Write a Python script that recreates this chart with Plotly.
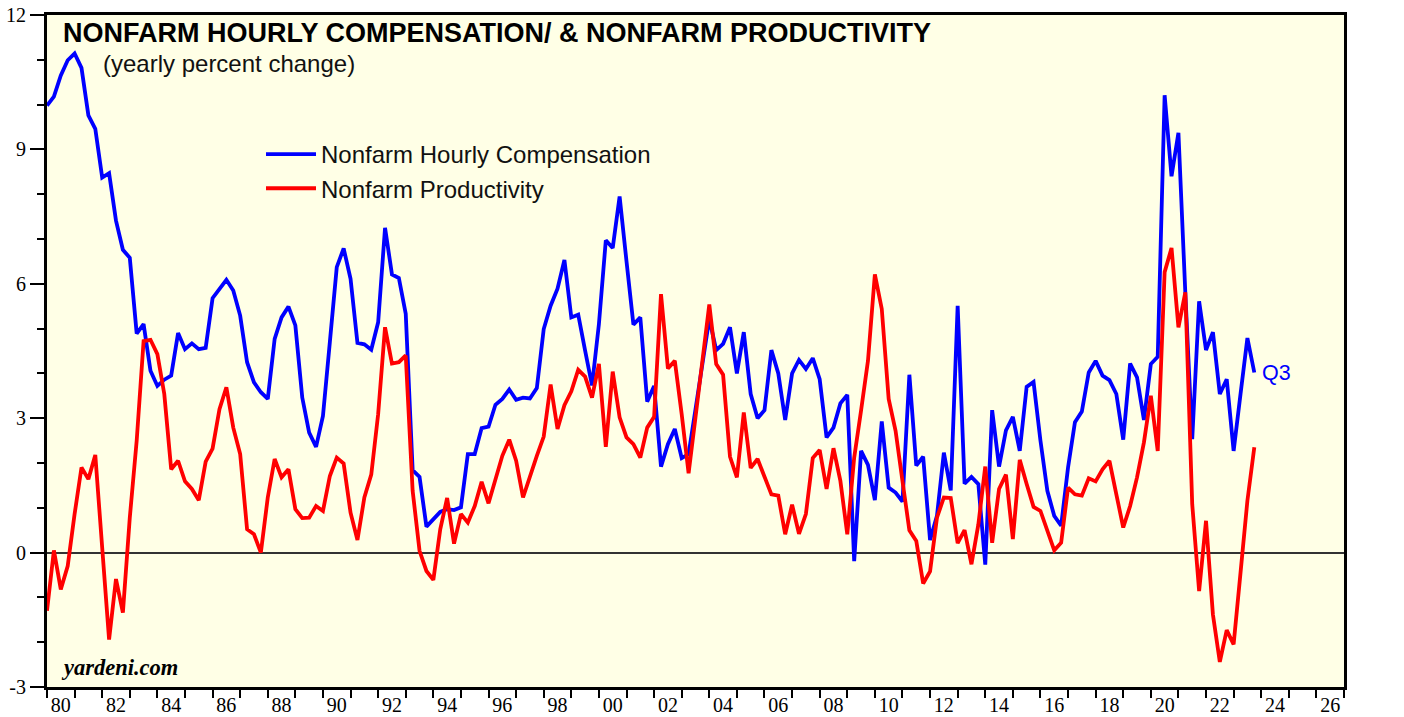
import plotly.graph_objects as go

# Quarterly observations, 1979Q4 .. 2023Q3 (plotted at quarter end)
start_year = 1980.0
compensation = [
    9.98, 10.18, 10.65, 10.99, 11.14, 10.82, 9.76, 9.46, 8.37, 8.47,
    7.41, 6.76, 6.58, 4.89, 5.10, 4.06, 3.72, 3.86, 3.95, 4.90,
    4.54, 4.67, 4.54, 4.57, 5.68, 5.89, 6.09, 5.85, 5.29, 4.25,
    3.80, 3.58, 3.43, 4.77, 5.25, 5.49, 5.07, 3.46, 2.68, 2.36,
    3.05, 4.70, 6.37, 6.79, 6.11, 4.68, 4.65, 4.53, 5.14, 7.25,
    6.21, 6.13, 5.33, 1.84, 1.69, 0.58, 0.75, 0.91, 0.97, 0.95,
    1.01, 2.20, 2.20, 2.78, 2.81, 3.30, 3.43, 3.64, 3.41, 3.46,
    3.44, 3.67, 4.99, 5.51, 5.89, 6.53, 5.25, 5.31, 4.51, 3.73,
    5.10, 6.97, 6.80, 7.95, 6.50, 5.09, 5.25, 3.37, 3.72, 1.92,
    2.42, 2.76, 2.11, 2.20, 3.20, 4.21, 5.22, 4.52, 4.66, 5.03,
    4.00, 4.92, 3.54, 3.00, 3.18, 4.52, 4.00, 2.96, 4.00, 4.30,
    4.10, 4.34, 3.87, 2.57, 2.79, 3.33, 3.52, -0.19, 2.27, 1.96,
    1.17, 2.93, 1.45, 1.34, 1.14, 3.97, 1.94, 2.14, 0.28, 0.82,
    2.23, 1.39, 5.51, 1.54, 1.69, 1.53, -0.27, 3.18, 1.92, 2.73,
    3.03, 2.27, 3.70, 3.81, 2.50, 1.38, 0.82, 0.60, 1.90, 2.91,
    3.15, 4.02, 4.28, 3.95, 3.85, 3.54, 2.52, 4.22, 3.91, 2.96,
    4.21, 4.37, 10.21, 8.40, 9.37, 5.80, 2.53, 5.61, 4.52, 4.92,
    3.54, 3.87, 2.27, 3.54, 4.79, 4.02,
]
productivity = [
    -1.30, 0.05, -0.82, -0.30, 0.86, 1.90, 1.64, 2.18, 0.11, -1.94,
    -0.59, -1.34, 0.78, 2.50, 4.72, 4.75, 4.43, 3.54, 1.86, 2.05,
    1.59, 1.42, 1.17, 2.03, 2.32, 3.20, 3.69, 2.79, 2.20, 0.52,
    0.41, 0.00, 1.23, 2.09, 1.68, 1.86, 0.97, 0.77, 0.78, 1.04,
    0.93, 1.71, 2.12, 1.99, 0.89, 0.28, 1.23, 1.74, 3.09, 5.03,
    4.22, 4.25, 4.40, 1.38, 0.04, -0.41, -0.61, 0.52, 1.22, 0.20,
    0.86, 0.67, 1.04, 1.58, 1.10, 1.64, 2.16, 2.52, 2.05, 1.23,
    1.71, 2.16, 2.59, 3.75, 2.76, 3.29, 3.60, 4.08, 3.93, 3.46,
    4.21, 2.36, 4.04, 3.02, 2.57, 2.42, 2.12, 2.79, 3.03, 5.77,
    4.11, 4.28, 3.09, 1.77, 3.02, 4.28, 5.54, 4.21, 3.97, 2.14,
    1.68, 3.13, 1.89, 2.09, 1.68, 1.30, 1.27, 0.41, 1.07, 0.42,
    0.86, 2.11, 2.29, 1.42, 2.33, 1.60, 0.41, 2.12, 3.17, 4.28,
    6.21, 5.44, 3.43, 2.72, 1.60, 0.50, 0.26, -0.69, -0.42, 0.78,
    1.23, 1.22, 0.21, 0.50, -0.26, 0.63, 1.92, 0.22, 1.42, 1.74,
    0.30, 2.07, 1.53, 1.02, 0.93, 0.48, 0.05, 0.22, 1.45, 1.30,
    1.27, 1.66, 1.59, 1.86, 2.05, 1.30, 0.56, 1.04, 1.68, 2.46,
    3.50, 2.27, 6.26, 6.80, 5.03, 5.81, 1.08, -0.86, 0.71, -1.38,
    -2.44, -1.73, -2.05, -0.45, 1.16, 2.35,
]
dates = [start_year + i / 4 for i in range(len(compensation))]

year_ticks = list(range(1980, 2028))
label_years = list(range(1980, 2027, 2))
label_text = [f"{y % 100:02d}" for y in label_years]
label_pos = [y + 0.5 for y in label_years]

y_major = [-3, 0, 3, 6, 9, 12]
y_major_text = ["-3", "0", "3", "6", "9", "12"]
y_minor = list(range(-3, 13))

x_range = [1980, 2027]
y_range = [-3, 12]

fig = go.Figure()
fig.add_trace(go.Scatter(x=dates, y=compensation, mode="lines",
                         name="Nonfarm Hourly Compensation",
                         xaxis="x", yaxis="y",
                         line=dict(color="#0000FF", width=3.8)))
fig.add_trace(go.Scatter(x=dates, y=productivity, mode="lines",
                         name="Nonfarm Productivity",
                         xaxis="x2", yaxis="y",
                         line=dict(color="#FF0000", width=3.8)))

tickfont = dict(family="Liberation Serif", size=20, color="black")
ymin = dict(tickmode="array", tickvals=y_minor, ticks="outside", ticklen=7,
            tickwidth=1.5, tickcolor="black", showgrid=False)

fig.update_layout(
    width=1404, height=717,
    margin=dict(l=47, r=60, t=15, b=30, autoexpand=False),
    paper_bgcolor="white",
    plot_bgcolor="#FFFFE6",
    showlegend=True,
    hovermode=False,
    legend=dict(x=0.165, y=0.826, xanchor="left", yanchor="top",
                bgcolor="rgba(0,0,0,0)", itemwidth=50,
                font=dict(family="Liberation Sans", size=24, color="#111"),
                tracegroupgap=0),
    xaxis=dict(range=x_range, tickmode="array", tickvals=year_ticks,
               ticks="outside", ticklen=8, tickwidth=2, tickcolor="black",
               showticklabels=False, showgrid=False, zeroline=False,
               automargin=False,
               showline=True, linecolor="black", linewidth=3, mirror=True),
    xaxis2=dict(range=x_range, overlaying="x", anchor="y", side="bottom",
                tickmode="array", tickvals=label_pos, ticktext=label_text,
                ticks="", tickfont=tickfont, ticklabelstandoff=4,
                ticklabeloverflow="allow", automargin=False,
                showgrid=False, zeroline=False, showline=False),
    yaxis=dict(range=y_range, tickmode="array", tickvals=y_major,
               ticktext=y_major_text,
               ticks="outside", ticklen=14, tickwidth=1.5, tickcolor="black",
               minor=ymin, tickfont=tickfont, showgrid=False,
               ticklabeloverflow="allow", automargin=False,
               zeroline=True, zerolinecolor="#333333", zerolinewidth=1.5,
               showline=True, linecolor="black", linewidth=3, mirror=True),
    yaxis2=dict(range=y_range, overlaying="y", anchor="x", side="right",
                tickmode="array", tickvals=y_major, ticktext=y_major_text,
                ticks="outside", ticklen=14, tickwidth=1.5, tickcolor="black",
                minor=ymin, tickfont=tickfont, showgrid=False, zeroline=False,
                ticklabeloverflow="allow", automargin=False, showline=False),
)

fig.add_annotation(xref="paper", yref="paper", x=0.011, y=0.998,
                   xanchor="left", yanchor="top", showarrow=False,
                   text="<b>NONFARM HOURLY COMPENSATION/ &amp; NONFARM PRODUCTIVITY</b>",
                   font=dict(family="Liberation Sans", size=27, color="black"))
fig.add_annotation(xref="paper", yref="paper", x=0.042, y=0.951,
                   xanchor="left", yanchor="top", showarrow=False,
                   text="(yearly percent change)",
                   font=dict(family="Liberation Sans", size=24, color="#111"))
fig.add_annotation(xref="paper", yref="paper", x=0.009, y=0.008,
                   xanchor="left", yanchor="bottom", showarrow=False,
                   text="<b><i>yardeni.com</i></b>",
                   font=dict(family="Liberation Serif", size=22.5, color="black"))
fig.add_annotation(x=dates[-1], y=compensation[-1], xref="x", yref="y",
                   xanchor="left", yanchor="middle", xshift=6, showarrow=False,
                   text="Q3",
                   font=dict(family="Liberation Sans", size=21.5, color="#0000FF"))

fig.write_html("out.html",
               config={"displayModeBar": False},
               post_script="document.body.style.margin='0';")
